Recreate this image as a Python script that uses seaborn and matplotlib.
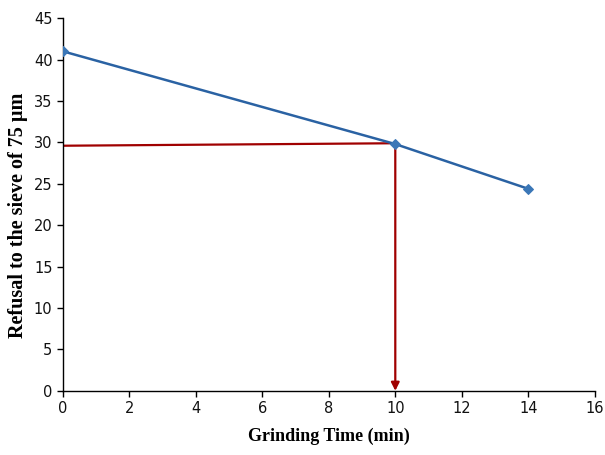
import pandas as pd
import matplotlib.pyplot as plt
import seaborn as sns

time_min = [0, 10, 14]
refusal = [41.0, 29.8, 24.4]

guide_x = [0, 10, 10]
guide_y = [29.6, 29.9, 0]

df = pd.DataFrame({'Grinding Time': time_min, 'Refusal': refusal})

sns.set_style("white")
fig = plt.figure(figsize=(6.05, 4.55), dpi=100)
ax = fig.add_axes([0.104, 0.141, 0.879, 0.819])

# red guide lines
ax.plot(guide_x[:2], guide_y[:2], color='#A00000', lw=1.6, zorder=2)
ax.annotate('', xy=(guide_x[2], guide_y[2]), xytext=(guide_x[1], guide_y[1]),
            arrowprops=dict(arrowstyle='-|>', color='#A00000', lw=1.6,
                            mutation_scale=12, shrinkA=0, shrinkB=0),
            zorder=2)

sns.lineplot(data=df, x='Grinding Time', y='Refusal', ax=ax,
             color='#2A62A3', lw=1.8, marker='D', markersize=5,
             markerfacecolor='#3B77B7', markeredgecolor='#3B77B7', zorder=3)

ax.set_xlim(0, 16)
ax.set_ylim(0, 45)
ax.set_xticks(range(0, 17, 2))
ax.set_yticks(range(0, 46, 5))
ax.tick_params(axis='both', direction='out', length=4, width=1, color='black',
               labelcolor='#111111', labelsize=10.5, bottom=True, left=True)
for s in ['top', 'right']:
    ax.spines[s].set_visible(False)
for s in ['left', 'bottom']:
    ax.spines[s].set_color('black')
    ax.spines[s].set_linewidth(1)

ax.set_xlabel('Grinding Time (min)', fontsize=13, fontweight='bold', color='black',
              family='Liberation Serif', labelpad=8)
ax.set_ylabel('Refusal to the sieve of 75 µm', fontsize=14.5, fontweight='bold',
              color='black', family='Liberation Serif')
ax.yaxis.set_label_coords(-0.066, 0.47)

fig.savefig('out.png', dpi=100)
